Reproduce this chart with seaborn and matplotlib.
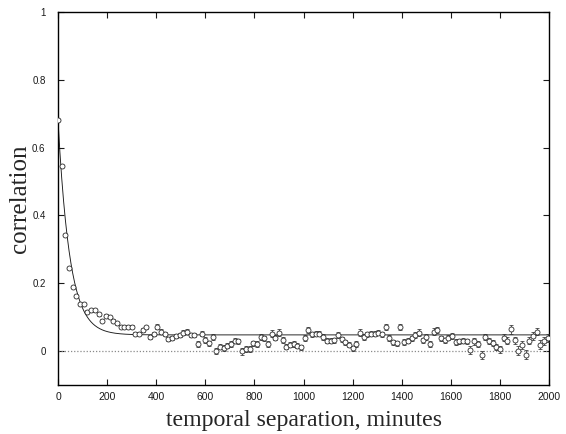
import numpy as np
import pandas as pd
import matplotlib
matplotlib.use("Agg")
import matplotlib.pyplot as plt
from matplotlib.ticker import FuncFormatter
import seaborn as sns

# Autocorrelation sampled every 15 minutes
step_minutes = 15
correlation = [
    0.680, 0.545, 0.343, 0.245, 0.189, 0.163, 0.138, 0.138, 0.115, 0.120,
    0.120, 0.108, 0.089, 0.104, 0.100, 0.089, 0.081, 0.071, 0.071, 0.071,
    0.071, 0.051, 0.051, 0.061, 0.069, 0.041, 0.051, 0.071, 0.057, 0.051,
    0.035, 0.039, 0.044, 0.047, 0.054, 0.057, 0.047, 0.047, 0.020, 0.051,
    0.032, 0.022, 0.041, 0.000, 0.012, 0.008, 0.015, 0.020, 0.030, 0.028,
    -0.002, 0.005, 0.005, 0.022, 0.020, 0.041, 0.037, 0.020, 0.051, 0.039,
    0.054, 0.032, 0.012, 0.018, 0.020, 0.015, 0.010, 0.039, 0.061, 0.049,
    0.051, 0.051, 0.041, 0.030, 0.030, 0.031, 0.047, 0.034, 0.025, 0.018,
    0.007, 0.020, 0.054, 0.041, 0.049, 0.051, 0.051, 0.054, 0.049, 0.069,
    0.039, 0.025, 0.022, 0.069, 0.025, 0.030, 0.037, 0.047, 0.054, 0.031,
    0.041, 0.020, 0.057, 0.061, 0.037, 0.031, 0.039, 0.044, 0.025, 0.028,
    0.030, 0.028, 0.002, 0.028, 0.020, -0.012, 0.041, 0.030, 0.022, 0.010,
    0.005, 0.039, 0.030, 0.064, 0.031, 0.000, 0.017, -0.012, 0.030, 0.044,
    0.057, 0.018, 0.030, 0.037,
]
errors = [
    0.003, 0.003, 0.003, 0.003, 0.003, 0.003, 0.003, 0.003, 0.004, 0.004,
    0.004, 0.004, 0.004, 0.004, 0.004, 0.004, 0.004, 0.004, 0.004, 0.004,
    0.005, 0.005, 0.005, 0.005, 0.005, 0.005, 0.006, 0.008, 0.006, 0.006,
    0.006, 0.006, 0.006, 0.006, 0.006, 0.006, 0.007, 0.007, 0.010, 0.008,
    0.008, 0.008, 0.008, 0.009, 0.008, 0.008, 0.008, 0.008, 0.008, 0.008,
    0.009, 0.008, 0.008, 0.008, 0.008, 0.009, 0.008, 0.008, 0.009, 0.008,
    0.009, 0.008, 0.008, 0.008, 0.008, 0.008, 0.008, 0.009, 0.009, 0.008,
    0.008, 0.008, 0.008, 0.008, 0.008, 0.008, 0.009, 0.008, 0.008, 0.008,
    0.008, 0.009, 0.009, 0.008, 0.008, 0.008, 0.008, 0.008, 0.008, 0.009,
    0.009, 0.008, 0.008, 0.009, 0.009, 0.008, 0.008, 0.009, 0.009, 0.008,
    0.010, 0.008, 0.009, 0.009, 0.008, 0.008, 0.008, 0.008, 0.009, 0.008,
    0.008, 0.008, 0.011, 0.010, 0.009, 0.011, 0.009, 0.009, 0.009, 0.009,
    0.010, 0.011, 0.010, 0.013, 0.010, 0.013, 0.012, 0.013, 0.011, 0.011,
    0.011, 0.013, 0.012, 0.012,
]

# Exponential fit: c + A * exp(-t / tau)
fit_offset = 0.047
fit_amplitude = 0.633
fit_tau = 48.0

x_ticks = [0, 200, 400, 600, 800, 1000, 1200, 1400, 1600, 1800, 2000]
y_ticks = [0, 0.2, 0.4, 0.6, 0.8, 1]

minutes = np.arange(len(correlation)) * step_minutes
df = pd.DataFrame({"minutes": minutes, "correlation": correlation, "err": errors})

t_fit = np.linspace(0, 2000, 800)
fit_df = pd.DataFrame({
    "minutes": t_fit,
    "correlation": fit_offset + fit_amplitude * np.exp(-t_fit / fit_tau),
})

sns.set_theme(style="ticks")
plt.rcParams["font.family"] = ["Liberation Sans", "DejaVu Sans"]

fig = plt.figure(figsize=(5.66, 4.34), dpi=100)
ax = fig.add_axes([0.1025, 0.1136, 0.8675, 0.8588])

# zero reference
ax.axhline(0, color="#8a8a8a", lw=0.9, ls=(0, (1, 1.5)), zorder=1)

# fitted curve
sns.lineplot(data=fit_df, x="minutes", y="correlation", ax=ax,
             color="#1a1a1a", lw=0.65, zorder=2)

# error bars and open markers
ax.errorbar(df["minutes"], df["correlation"], yerr=df["err"], fmt="none",
            ecolor="#333333", elinewidth=0.55, capsize=1.7, capthick=0.55, zorder=3)
sns.scatterplot(data=df, x="minutes", y="correlation", ax=ax,
                marker="o", s=13, facecolor="white", edgecolor="#2a2a2a",
                linewidth=0.6, zorder=4)

ax.set_xlim(0, 2000)
ax.set_ylim(-0.1, 1.0)
ax.set_xticks(x_ticks)
ax.set_yticks(y_ticks)
ax.yaxis.set_major_formatter(FuncFormatter(lambda v, p: f"{v:g}"))
ax.tick_params(axis="both", direction="in", length=4, width=0.8,
               top=True, right=True, labelsize=7.5, colors="#1a1a1a")
ax.tick_params(axis="x", pad=5)
ax.tick_params(axis="y", pad=9, labelsize=7)
for s in ax.spines.values():
    s.set_color("black")
    s.set_linewidth(1.0)

serif = ["Liberation Serif", "DejaVu Serif"]
ax.set_xlabel("temporal separation, minutes", fontsize=17.2, family=serif, labelpad=6)
ax.set_ylabel("correlation", fontsize=18, family=serif)
ax.yaxis.set_label_coords(-0.055, 0.5)

fig.savefig("out.png", dpi=100)
